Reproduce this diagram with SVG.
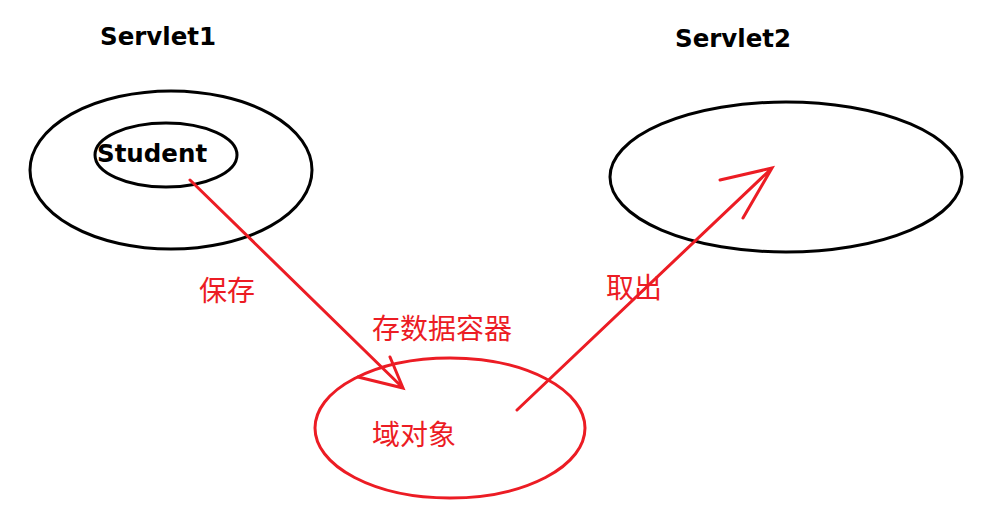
<svg xmlns="http://www.w3.org/2000/svg" width="1006" height="522" viewBox="0 0 1006 522">
<style>
.blk{fill:none;stroke:#000;stroke-width:3}
.red{fill:none;stroke:#ec1c24;stroke-width:3;stroke-linecap:round}
.lbl{font-family:"DejaVu Sans",sans-serif;font-weight:bold;font-size:24.5px;fill:#000}
.cn{font-family:"Noto Sans CJK SC",sans-serif;font-size:28px;fill:#ec1c24}
</style>
<rect width="1006" height="522" fill="#fff"/>
<g id="servlet1">
<ellipse class="blk" cx="171" cy="170" rx="141" ry="79"/>
<text class="lbl" x="100" y="45">Servlet1</text>
</g>
<g id="student">
<ellipse class="blk" cx="166" cy="155" rx="71" ry="32"/>
<text class="lbl" x="97" y="162">Student</text>
</g>
<g id="servlet2">
<ellipse class="blk" cx="786" cy="177" rx="176" ry="75"/>
<text class="lbl" x="675" y="47">Servlet2</text>
</g>
<g id="domain">
<ellipse class="red" cx="450" cy="428" rx="135" ry="70"/>
<text class="cn" x="372" y="445">域对象</text>
</g>
<g id="connectors">
<path class="red" d="M190 180 L403 388 M358 377 L403 388 L390 357"/>
<path class="red" d="M517 410 L772 168 M720 180 L772 168 L743 218"/>
</g>
<g id="labels">
<text class="cn" x="199" y="301">保存</text>
<text class="cn" x="372" y="339">存数据容器</text>
<text class="cn" x="606" y="298">取出</text>
</g>
</svg>
